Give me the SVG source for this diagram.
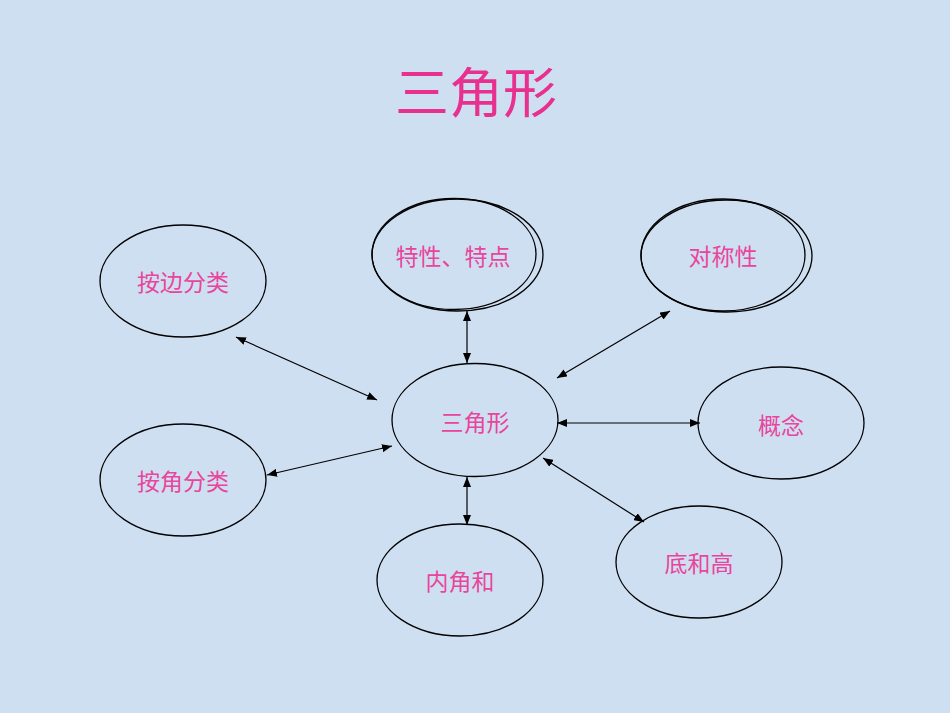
<svg xmlns="http://www.w3.org/2000/svg" width="950" height="713" viewBox="0 0 950 713">
<style>
.n{fill:none;stroke:#000;stroke-width:1.3}
.t{font-family:"Noto Sans CJK SC","Noto Sans",sans-serif;fill:#e8459c;font-size:23px;text-anchor:middle;dominant-baseline:central}
.c line{stroke:#000;stroke-width:1.2;marker-start:url(#a);marker-end:url(#a)}
</style>
<defs>
<marker id="a" viewBox="0 0 10 8" refX="10" refY="4" markerWidth="10" markerHeight="8" markerUnits="userSpaceOnUse" orient="auto-start-reverse">
<path d="M0,0L10,4L0,8z" fill="#000"/>
</marker>
</defs>
<rect width="950" height="713" fill="#cfdff2"/>
<text x="476" y="89" style="font-family:'Noto Sans CJK SC',sans-serif;fill:#e8308f;font-size:54px;text-anchor:middle;dominant-baseline:central">三角形</text>
<g class="c">
<line x1="467" y1="311" x2="467" y2="363"/>
<line x1="670" y1="311" x2="557" y2="378"/>
<line x1="557" y1="423" x2="700" y2="423"/>
<line x1="543" y1="458" x2="644" y2="522"/>
<line x1="467" y1="477" x2="467" y2="525"/>
<line x1="267" y1="475" x2="392" y2="446"/>
<line x1="236" y1="337" x2="377" y2="400"/>
</g>
<g id="bianfenlei"><ellipse class="n" cx="183" cy="281" rx="83" ry="56"/><text class="t" x="183" y="281">按边分类</text></g>
<g id="texing"><ellipse class="n" cx="457.5" cy="255" rx="85.5" ry="56"/><ellipse class="n" cx="454" cy="254" rx="82" ry="55.5"/><text class="t" x="453" y="255">特性、特点</text></g>
<g id="duichen"><ellipse class="n" cx="726.5" cy="256" rx="85.5" ry="56"/><ellipse class="n" cx="723" cy="255" rx="82" ry="56"/><text class="t" x="723" y="255">对称性</text></g>
<g id="sanjiaoxing"><ellipse class="n" cx="475" cy="420" rx="83" ry="56.5"/><text class="t" x="475" y="421">三角形</text></g>
<g id="gainian"><ellipse class="n" cx="781" cy="423" rx="83" ry="56"/><text class="t" x="781" y="424">概念</text></g>
<g id="jiaofenlei"><ellipse class="n" cx="183" cy="480" rx="83" ry="56"/><text class="t" x="183" y="480">按角分类</text></g>
<g id="dihegao"><ellipse class="n" cx="699" cy="562" rx="83" ry="56"/><text class="t" x="699" y="562">底和高</text></g>
<g id="neijiaohe"><ellipse class="n" cx="460" cy="580" rx="83" ry="56"/><text class="t" x="460" y="580">内角和</text></g>
</svg>
